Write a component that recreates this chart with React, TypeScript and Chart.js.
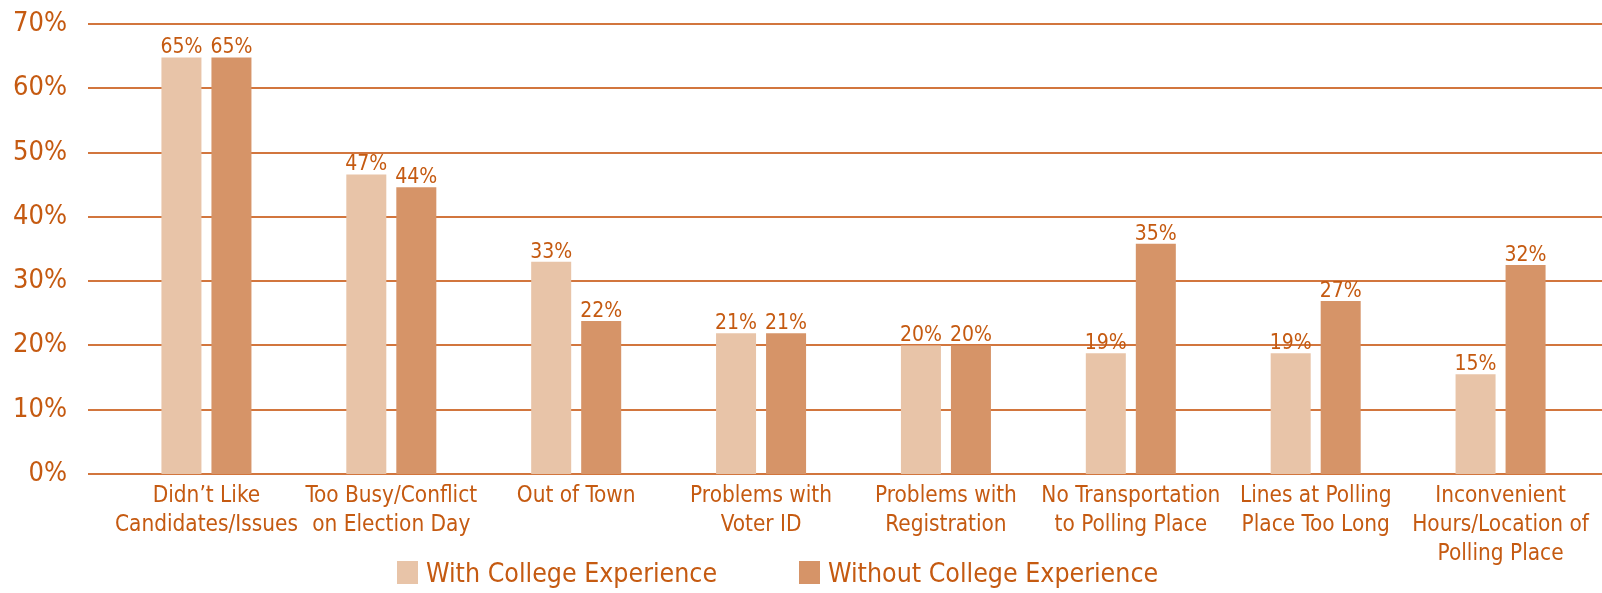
import React, { useEffect, useRef } from "react";
import { Chart, registerables } from "chart.js";

Chart.register(...registerables);

const categories: string[][] = [
  ["Didn’t Like", "Candidates/Issues"],
  ["Too Busy/Conflict", "on Election Day"],
  ["Out of Town"],
  ["Problems with", "Voter ID"],
  ["Problems with", "Registration"],
  ["No Transportation", "to Polling Place"],
  ["Lines at Polling", "Place Too Long"],
  ["Inconvenient", "Hours/Location of", "Polling Place"],
];

const seriesNames = ["With College Experience", "Without College Experience"];
const withCollege = [64.8, 46.6, 33.0, 21.9, 20.0, 18.8, 18.8, 15.5];
const withoutCollege = [64.8, 44.6, 23.8, 21.9, 20.0, 35.8, 26.9, 32.5];
const withLabels = ["65%", "47%", "33%", "21%", "20%", "19%", "19%", "15%"];
const withoutLabels = ["65%", "44%", "22%", "21%", "20%", "35%", "27%", "32%"];
const yTickValues = [0, 10, 20, 30, 40, 50, 60, 70];

const FONT = "'DejaVu Sans Condensed', 'DejaVu Sans', sans-serif";
const TEXT = "#C55A11";
const GRID = "#D2763E";
const LIGHT = "#E8C4A8";
const DARK = "#D69468";

const labelSets = [withLabels, withoutLabels];

const gridPlugin = {
  id: "extendedGrid",
  beforeDatasetsDraw(chart: any) {
    const ctx = chart.ctx;
    const y = chart.scales.y;
    ctx.save();
    ctx.strokeStyle = GRID;
    ctx.lineWidth = 2;
    yTickValues.forEach((v) => {
      const py = Math.round(y.getPixelForValue(v));
      ctx.beginPath();
      ctx.moveTo(88, py);
      ctx.lineTo(chart.width, py);
      ctx.stroke();
    });
    ctx.restore();
  },
};

const valueLabelPlugin = {
  id: "valueLabels",
  afterDatasetsDraw(chart: any) {
    const ctx = chart.ctx;
    ctx.save();
    ctx.fillStyle = TEXT;
    ctx.font = `21px ${FONT}`;
    ctx.textAlign = "center";
    ctx.textBaseline = "alphabetic";
    chart.data.datasets.forEach((_: any, i: number) => {
      const meta = chart.getDatasetMeta(i);
      meta.data.forEach((bar: any, j: number) => {
        ctx.fillText(labelSets[i][j], bar.x, bar.y - 4);
      });
    });
    ctx.restore();
  },
};

export default function App() {
  const canvasRef = useRef<HTMLCanvasElement | null>(null);

  useEffect(() => {
    if (!canvasRef.current) return;
    const chart = new Chart(canvasRef.current, {
      type: "bar",
      data: {
        labels: categories,
        datasets: [
          {
            label: seriesNames[0],
            data: withCollege,
            backgroundColor: LIGHT,
            barPercentage: 0.8,
            categoryPercentage: 0.541,
          },
          {
            label: seriesNames[1],
            data: withoutCollege,
            backgroundColor: DARK,
            barPercentage: 0.8,
            categoryPercentage: 0.541,
          },
        ],
      },
      options: {
        animation: false,
        responsive: false,
        devicePixelRatio: 1,
        layout: { padding: { top: 24, right: 9, bottom: 0, left: 0 } },
        plugins: {
          legend: { display: false },
          tooltip: { enabled: false },
        },
        scales: {
          x: {
            type: "category",
            grid: { display: false, drawTicks: false },
            border: { display: false },
            ticks: {
              color: TEXT,
              font: { family: FONT, size: 22.4, lineHeight: "29px" },
              padding: 8,
              maxRotation: 0,
              minRotation: 0,
              autoSkip: false,
            },
            afterFit(scale: any) {
              scale.height = 119;
            },
          },
          y: {
            min: 0,
            max: 70,
            grid: { display: false, drawTicks: false },
            border: { display: false },
            ticks: {
              stepSize: 10,
              color: TEXT,
              font: { family: FONT, size: 27 },
              padding: 47,
              callback: (v: any) => `${v}%`,
            },
            afterFit(scale: any) {
              scale.width = 114;
              scale.paddingTop = 10;
              scale.paddingBottom = 10;
            },
          },
        },
      },
      plugins: [gridPlugin, valueLabelPlugin],
    });
    return () => chart.destroy();
  }, []);

  const legendItem = (name: string, color: string, left: number) => (
    <div
      key={name}
      style={{
        position: "absolute",
        left,
        top: 557,
        height: 30,
        display: "flex",
        alignItems: "center",
        fontFamily: FONT,
        fontSize: 26.5,
        color: TEXT,
        whiteSpace: "nowrap",
      }}
    >
      <span
        style={{
          display: "inline-block",
          width: 21,
          height: 23,
          background: color,
          marginRight: 8,
        }}
      />
      <span>{name}</span>
    </div>
  );

  return (
    <div style={{ position: "absolute", left: 0, top: 0, width: 1602, height: 593, background: "#fff" }}>
      <canvas ref={canvasRef} width={1602} height={593} style={{ position: "absolute", left: 0, top: 0 }} />
      {legendItem(seriesNames[0], LIGHT, 397)}
      {legendItem(seriesNames[1], DARK, 799)}
    </div>
  );
}
